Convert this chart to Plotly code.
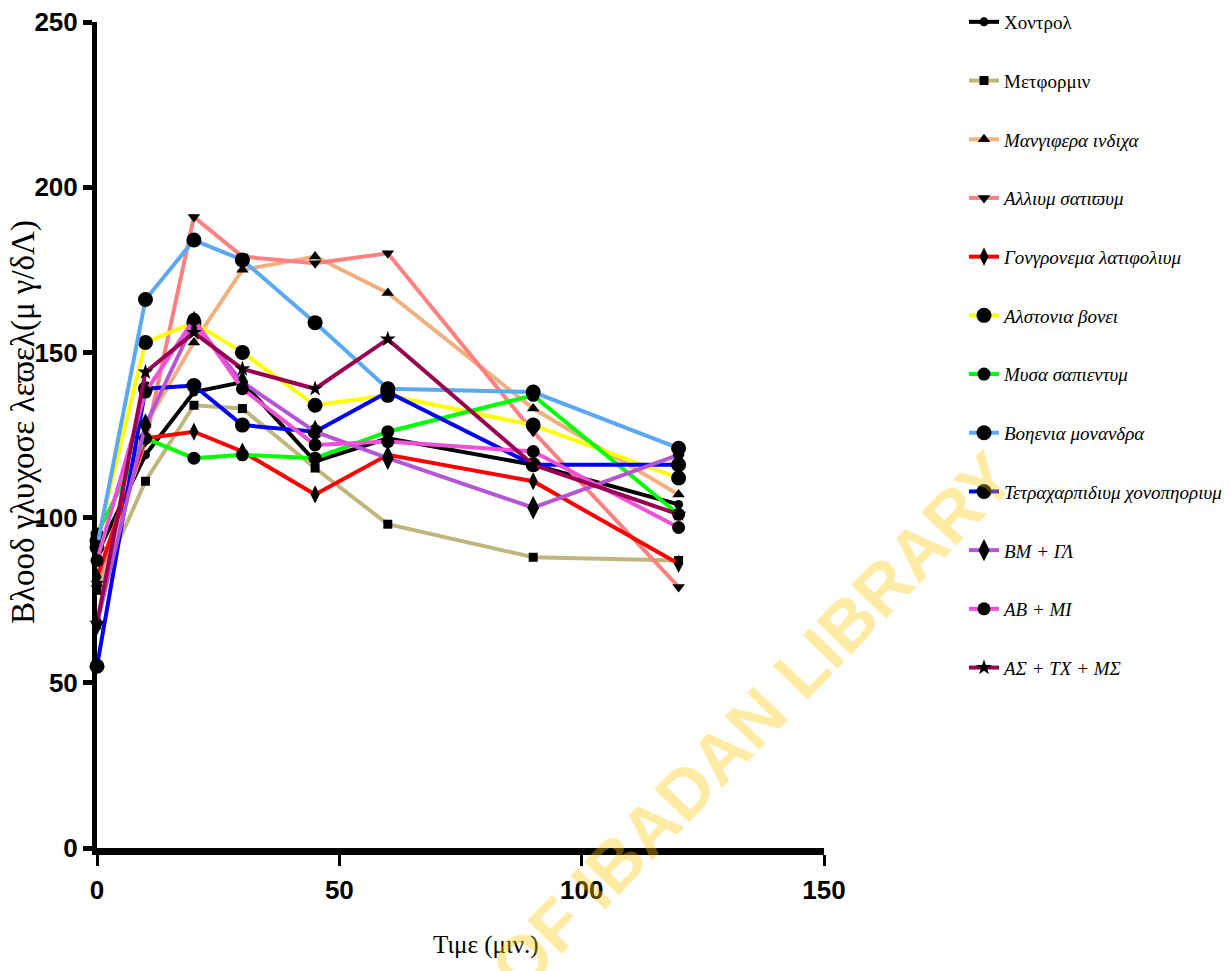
import plotly.graph_objects as go

time_min = [0, 10, 20, 30, 45, 60, 90, 120]

series_names = [
    "Χοντρολ",
    "Μετφορμιν",
    "<i>Μανγιφερα ινδιχα</i>",
    "<i>Αλλιυμ σατιϖυμ</i>",
    "<i>Γονγρονεμα λατιφολιυμ</i>",
    "<i>Αλστονια βονει</i>",
    "<i>Μυσα σαπιεντυμ</i>",
    "<i>Βοηενια μονανδρα</i>",
    "<i>Τετραχαρπιδιυμ χονοπηοριυμ</i>",
    "<i>ΒΜ + ΓΛ</i>",
    "<i>ΑΒ + ΜΙ</i>",
    "<i>ΑΣ + ΤΧ + ΜΣ</i>",
]

control = [89, 119, 138, 141, 117, 124, 116, 104]
metformin = [78, 111, 134, 133, 115, 98, 88, 87]
mangifera = [80, 128, 153, 175, 179, 168, 133, 107]
allium = [80, 123, 191, 179, 177, 180, 126, 79]
gongronema = [82, 124, 126, 120, 107, 119, 111, 86]
alstonia = [93, 153, 159, 150, 134, 137, 128, 112]
musa = [95, 124, 118, 119, 118, 126, 137, 101]
boerhavia = [91, 166, 184, 178, 159, 139, 138, 121]
tetracarpidium = [55, 139, 140, 128, 126, 138, 116, 116]
bm_gl = [68, 128, 159, 141, 126, 118, 103, 119]
ab_mi = [87, 138, 160, 139, 122, 123, 120, 97]
as_tc_ms = [68, 144, 156, 145, 139, 154, 116, 101]

values = [control, metformin, mangifera, allium, gongronema, alstonia, musa,
          boerhavia, tetracarpidium, bm_gl, ab_mi, as_tc_ms]

x_title = "Τιμε (μιν.)"
y_title = "Βλοοδ γλυχοσε λεϖελ(μ γ/δΛ)"
watermark = "UNIVERSITY OF IBADAN LIBRARY"

colors = ["#000000", "#BFB57D", "#F2B07E", "#FF8080", "#FF0000", "#FFFF00",
          "#00FF00", "#5BA8F5", "#0000FF", "#B455D5", "#F050D8", "#990050"]
symbols = ["circle", "square", "triangle-up", "triangle-down", "diamond-tall",
           "circle", "circle", "circle", "circle", "diamond-tall", "circle", "star"]
sizes = [9, 9, 11, 11, 13, 15, 13, 15, 15, 17, 13, 12]

fig = go.Figure()
for i, (name, vals) in enumerate(zip(series_names, values)):
    fig.add_trace(go.Scatter(
        x=time_min, y=vals, name=name, mode="lines+markers",
        line=dict(color=colors[i], width=4),
        marker=dict(symbol=symbols[i], size=sizes[i], color="black",
                    line=dict(width=0)),
        legendgroup=f"g{i}", cliponaxis=False,
    ))

tick_font = dict(family="Liberation Sans Narrow, Liberation Sans, Arial", size=26,
                 color="black", weight="bold")
serif = "Liberation Serif, Times New Roman"

fig.update_layout(
    width=1229, height=971,
    margin=dict(l=97, r=405, t=22, b=123),
    paper_bgcolor="white", plot_bgcolor="white",
    showlegend=True,
    legend=dict(x=964 / 1229, y=1 - 3 / 971, xref="container", yref="container",
                xanchor="left", yanchor="top", maxheight=900,
                font=dict(family=serif, size=19, color="black"),
                tracegroupgap=31, itemwidth=30, bgcolor="rgba(0,0,0,0)"),
    xaxis=dict(range=[0, 150], tickvals=[0, 50, 100, 150], showgrid=False, zeroline=False,
               showline=True, linecolor="black", linewidth=7, automargin=False,
               ticks="outside", ticklen=11, tickwidth=3, tickcolor="black",
               tickfont=tick_font, ticklabelstandoff=2),
    yaxis=dict(range=[0, 250], tickvals=[0, 50, 100, 150, 200, 250], showgrid=False,
               zeroline=False, showline=True, linecolor="black", linewidth=5,
               automargin=False,
               ticks="outside", ticklen=9, tickwidth=5, tickcolor="black",
               tickfont=tick_font, ticklabelstandoff=0),
)

fig.add_annotation(
    text=x_title, xref="paper", yref="paper",
    x=(486 - 97) / 727, y=(848 - 945) / 826, xanchor="center", yanchor="middle",
    showarrow=False, font=dict(family=serif, size=25, color="black"),
)
fig.add_annotation(
    text=y_title, xref="paper", yref="paper",
    x=(24 - 97) / 727, y=(848 - 422) / 826, xanchor="center", yanchor="middle",
    textangle=-90, showarrow=False, font=dict(family=serif, size=33, color="black"),
)
fig.add_annotation(
    text="<b>" + watermark + "</b>", xref="paper", yref="paper",
    x=(600 - 97) / 727, y=(848 - 880) / 826, xanchor="center", yanchor="middle",
    textangle=-46, showarrow=False,
    font=dict(family="Liberation Sans, Arial", size=70, color="rgba(255,200,0,0.36)"),
)

fig.write_html("out.html", config={"displayModeBar": False},
               post_script="document.body.style.margin='0';")
